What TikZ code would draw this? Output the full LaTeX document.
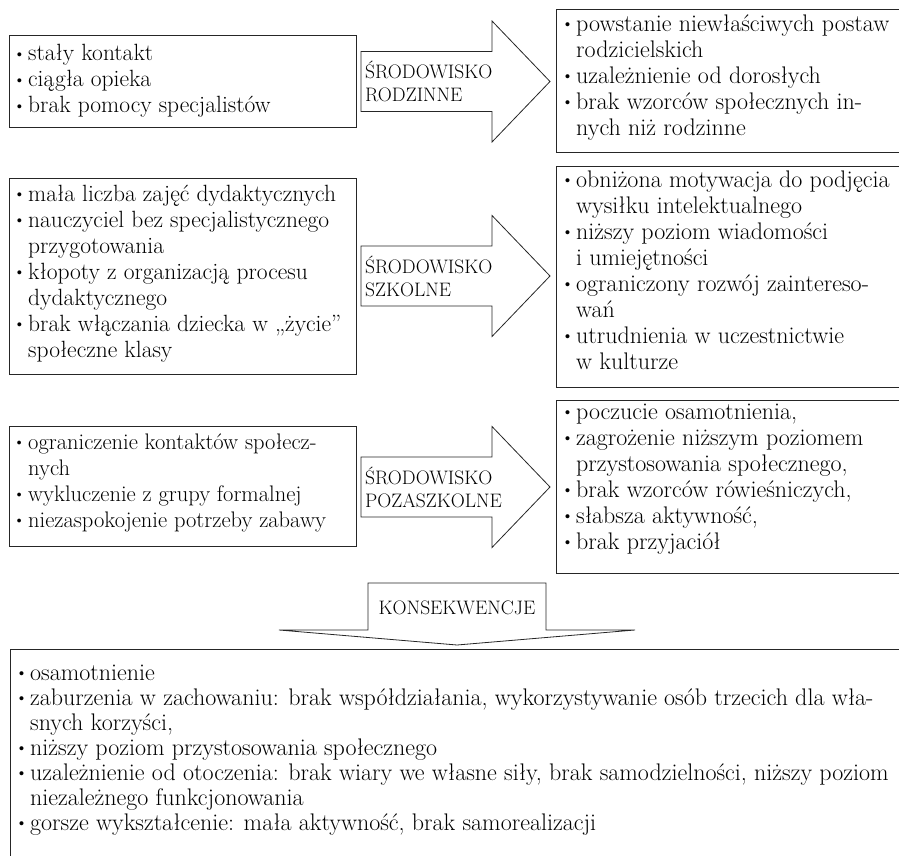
\documentclass[tikz,border=0pt]{standalone}
\usepackage{graphicx}
\usetikzlibrary{positioning}

\newcommand{\pkt}{\makebox[16pt][l]{\hspace{1pt}\raisebox{1.5pt}{\scalebox{0.75}{\textbullet}}}}
\newcommand{\wc}{\hspace*{16pt}}

\tikzset{
  ramka/.style={draw=black!85, line width=0.8pt, inner sep=0pt, anchor=north west},
  tekst/.style={anchor=north west, inner sep=0pt, align=left, font=\fontsize{23.5}{26}\selectfont},
  etykieta/.style={anchor=west, inner sep=0pt, align=left, font=\fontsize{19.5}{23}\selectfont},
  strzalka/.style={draw=black!85, line width=0.8pt, fill=white, line join=miter}
}

\begin{document}
\begin{tikzpicture}[x=1pt, y=-1pt]
    \useasboundingbox (0,0) rectangle (899,856);

    % ramki po lewej i po prawej
    \node[ramka, minimum width=347pt, minimum height=92pt] (l1) at (9,35) {};
    \node[ramka, minimum width=347pt, minimum height=196pt] (l2) at (9,178) {};
    \node[ramka, minimum width=347pt, minimum height=120pt] (l3) at (9,426) {};
    \node[ramka, minimum width=360pt, minimum height=143pt] (r1) at (556,9) {};
    \node[ramka, minimum width=360pt, minimum height=221pt] (r2) at (556,166) {};
    \node[ramka, minimum width=360pt, minimum height=173pt] (r3) at (556,400) {};
    \node[ramka, minimum width=900pt, minimum height=230pt] (wyn) at (10,649) {};

    % teksty w ramkach
    \node[tekst] (l1t) at ([xshift=3pt,yshift=-7.5pt]l1.north west)
        {\strut\pkt stały kontakt\\ \pkt ciągła opieka\\ \pkt brak pomocy specjalistów};
    \node[tekst] (l2t) at ([xshift=3pt,yshift=-5pt]l2.north west)
        {\strut\pkt mała liczba zajęć dydaktycznych\\
         \pkt nauczyciel bez specjalistycznego\\ \wc przygotowania\\
         \pkt kłopoty z organizacją procesu\\ \wc dydaktycznego\\
         \pkt brak włączania dziecka w „życie”\\ \wc społeczne klasy};
    \node[tekst, font=\fontsize{22.5}{26}\selectfont] (l3t) at ([xshift=3pt,yshift=-5pt]l3.north west)
        {\strut\pkt ograniczenie kontaktów społecz-\\ \wc nych\\
         \pkt wykluczenie z grupy formalnej\\
         \pkt niezaspokojenie potrzeby zabawy};
    \node[tekst, font=\fontsize{24}{26}\selectfont] (r1t) at ([xshift=4pt,yshift=-4pt]r1.north west)
        {\strut\pkt powstanie niewłaściwych postaw\\ \wc rodzicielskich\\
         \pkt uzależnienie od dorosłych\\
         \pkt brak wzorców społecznych in-\\ \wc nych niż rodzinne};
    \node[tekst, font=\fontsize{24}{26}\selectfont] (r2t) at ([xshift=4pt,yshift=-3pt]r2.north west)
        {\strut\pkt obniżona motywacja do podjęcia\\ \wc wysiłku intelektualnego\\
         \pkt niższy poziom wiadomości\\ \wc i umiejętności\\
         \pkt ograniczony rozwój zaintereso-\\ \wc wań\\
         \pkt utrudnienia w uczestnictwie\\ \wc w kulturze};
    \node[tekst, font=\fontsize{24}{26}\selectfont] (r3t) at ([xshift=4pt,yshift=-1pt]r3.north west)
        {\strut\pkt poczucie osamotnienia,\\
         \pkt zagrożenie niższym poziomem\\ \wc przystosowania społecznego,\\
         \pkt brak wzorców rówieśniczych,\\
         \pkt słabsza aktywność,\\
         \pkt brak przyjaciół};
    \node[tekst, font=\fontsize{24}{25}\selectfont] (wynt) at ([xshift=4pt,yshift=-13.5pt]wyn.north west)
        {\strut\pkt osamotnienie\\
         \pkt zaburzenia w zachowaniu: brak współdziałania, wykorzystywanie osób trzecich dla wła-\\
         \wc snych korzyści,\\
         \pkt niższy poziom przystosowania społecznego\\
         \pkt uzależnienie od otoczenia: brak wiary we własne siły, brak samodzielności, niższy poziom\\
         \wc niezależnego funkcjonowania\\
         \pkt gorsze wykształcenie: mała aktywność, brak samorealizacji};

    % strzalki srodowisk
    \foreach \yc/\napis [count=\i] in {81.5/{ŚRODOWISKO\\RODZINNE}, 276/{ŚRODOWISKO\\SZKOLNE}, 487/{ŚRODOWISKO\\POZASZKOLNE}} {
        \draw[strzalka] (361,\yc-30) -- (492,\yc-30) -- (492,\yc-60.5) -- (550,\yc)
            -- (492,\yc+60.5) -- (492,\yc+30) -- (361,\yc+30) -- cycle;
        \node[etykieta] (s\i) at (365,\yc) {\napis};
    }

    % konsekwencje
    \draw[strzalka] (368,583) -- (546,583) -- (546,630) -- (635,630) -- (457,645)
        -- (279,630) -- (368,630) -- cycle;
    \node[etykieta, anchor=center] (kons) at (457,608) {KONSEKWENCJE};
\end{tikzpicture}
\end{document}
